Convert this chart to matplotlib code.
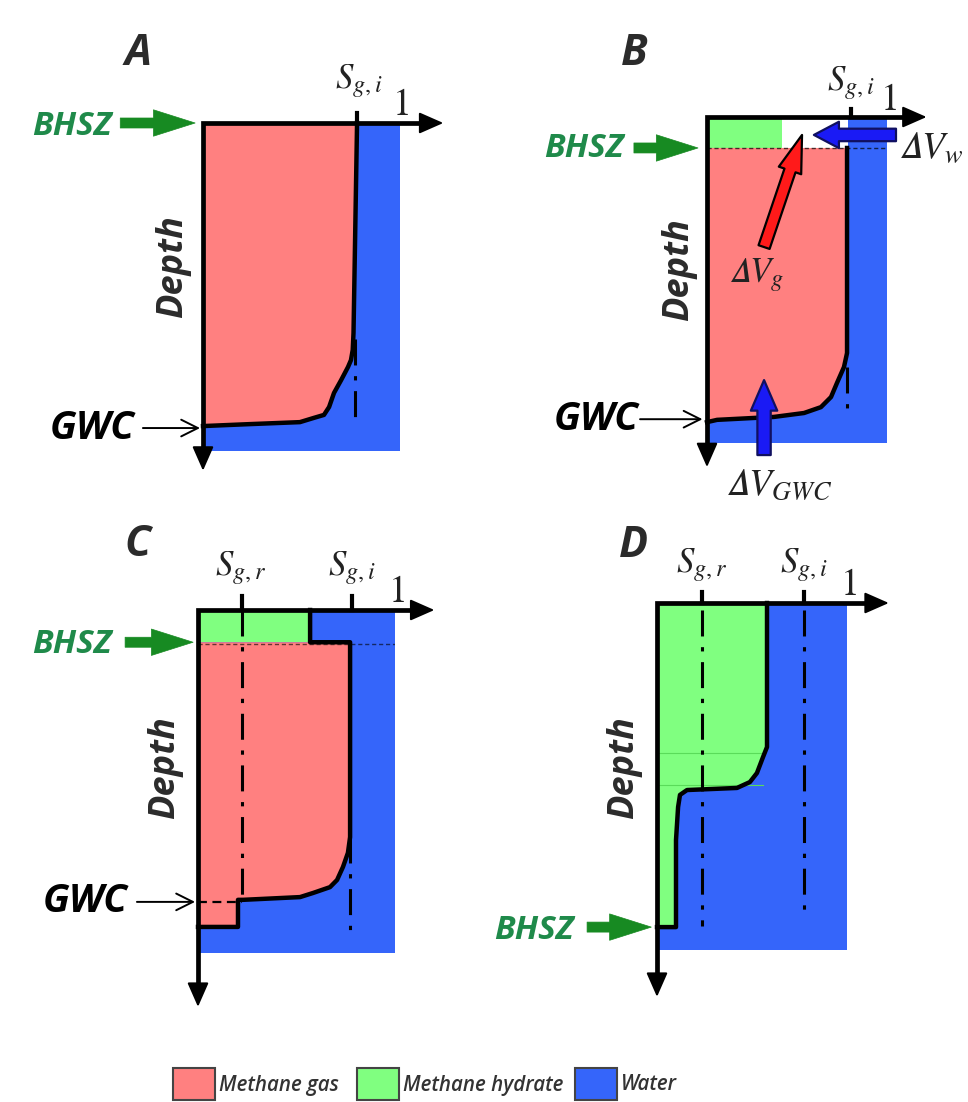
import matplotlib
matplotlib.use('Agg')
import matplotlib.pyplot as plt
from matplotlib.patches import Rectangle

plt.rcParams['mathtext.fontset'] = 'stix'
plt.rcParams['font.family'] = ['Open Sans', 'DejaVu Sans']

W, H = 968, 1102
fig = plt.figure(figsize=(W / 100, H / 100), dpi=100)

PINK = '#FF8080'
GREEN = '#80FF80'
BLUE = '#3565FA'
TXT_GREEN = '#1F8A4A'
ARR_GREEN = '#178A22'
DARK = '#2B2B2B'

# ---------------- data (saturation 0..1, normalised depth 0..1) ----------------
panel_letters = ['A', 'B', 'C', 'D']

# gas / hydrate boundary profiles
A_sat = [0.782, 0.764, 0.760, 0.751, 0.736, 0.701, 0.665, 0.640, 0.614, 0.563, 0.492, 0.239, 0.0]
A_depth = [0.0, 0.640, 0.692, 0.723, 0.744, 0.784, 0.823, 0.866, 0.890, 0.899, 0.912, 0.918, 0.924]

B_sat = [0.778, 0.778, 0.761, 0.722, 0.689, 0.633, 0.539, 0.372, 0.056, 0.0]
B_depth = [0.095, 0.724, 0.767, 0.816, 0.859, 0.890, 0.908, 0.920, 0.929, 0.936]

C_sat = [0.569, 0.569, 0.772, 0.772, 0.761, 0.736, 0.706, 0.670, 0.584, 0.518, 0.228, 0.203, 0.203, 0.0]
C_depth = [0.0, 0.094, 0.094, 0.662, 0.708, 0.749, 0.787, 0.808, 0.825, 0.837, 0.845, 0.845, 0.924, 0.924]

D_sat = [0.579, 0.579, 0.558, 0.526, 0.489, 0.421, 0.158, 0.121, 0.111, 0.100, 0.100, 0.0]
D_depth = [0.0, 0.415, 0.444, 0.490, 0.516, 0.533, 0.539, 0.553, 0.588, 0.683, 0.934, 0.934]

# characteristic saturations
Sgi = {'A': 0.782, 'B': 0.785, 'C': 0.78, 'D': 0.774}
Sgr = {'C': 0.223, 'D': 0.237}
# levels
BHSZ_depth = {'A': 0.0, 'B': 0.095, 'C': 0.094, 'D': 0.934}
GWC_depth = {'A': 0.93, 'B': 0.927, 'C': 0.851}
hydrate_B = 0.417          # hydrate saturation in B top layer
D_faint_lines = [0.432, 0.524]

legend_labels = ['Methane gas', 'Methane hydrate', 'Water']
legend_colors = [PINK, GREEN, BLUE]

# ---------------- layout (pixel boxes of each panel) ----------------
boxes = {'A': (203, 400, 123, 451), 'B': (707, 887, 117, 443),
         'C': (198, 395, 610, 953), 'D': (657, 847, 603, 950)}
axis_tips = {'A': (1.22, 1.06), 'B': (1.22, 1.074), 'C': (1.20, 1.157), 'D': (1.22, 1.135)}

DELTA = '\U0001D6E5'  # mathematical italic capital delta


def make_ax(key):
    x0, x1, yt, yb = boxes[key]
    ax = fig.add_axes([x0 / W, 1 - yb / H, (x1 - x0) / W, (yb - yt) / H])
    ax.set_xlim(0, 1)
    ax.set_ylim(1, 0)
    ax.axis('off')
    return ax


def frame(ax, key):
    xt, yt = axis_tips[key]
    ax.plot([0, 0, xt - 0.05], [yt - 0.05, 0, 0], color='k', lw=3.4,
            solid_joinstyle='miter', solid_capstyle='butt', clip_on=False, zorder=8)
    ap = dict(arrowstyle='-|>,head_length=0.75,head_width=0.33', lw=1.5, color='k',
              mutation_scale=20, shrinkA=0, shrinkB=0)
    ax.annotate('', xy=(xt, 0), xytext=(xt - 0.1, 0), arrowprops=ap, annotation_clip=False, zorder=8)
    ax.annotate('', xy=(0, yt), xytext=(0, yt - 0.1), arrowprops=ap, annotation_clip=False, zorder=8)


def dashdot(ax, x, d0, d1):
    ax.plot([x, x], [d0, d1], color='k', lw=2.2, linestyle=(0, (8.5, 3.5, 1.4, 3.5)),
            clip_on=False, zorder=4)


def tick(ax, x, h=0.035):
    ax.plot([x, x], [-h, 0], color='k', lw=3, clip_on=False, zorder=8)


def sat_label(ax, txt, x, d):
    ax.text(x, d, txt, fontsize=25, ha='center', va='baseline', color='#222222')


def one_label(ax, x, d):
    ax.text(x, d, r'$\mathit{1}$', fontsize=27, ha='center', va='baseline', color='#222222')


def bhsz(ax, tx, td, x0, x1, d):
    ax.text(tx, td, 'BHSZ', fontsize=24, fontweight='bold', fontstyle='italic',
            color=TXT_GREEN, ha='center', va='center')
    ax.annotate('', xy=(x1, d), xytext=(x0, d), annotation_clip=False,
                arrowprops=dict(arrowstyle='simple,head_length=1.5,head_width=0.95,tail_width=0.36',
                                fc=ARR_GREEN, ec=ARR_GREEN, lw=0.5, mutation_scale=20,
                                shrinkA=0, shrinkB=0))


def gwc(ax, tx, td, x0, x1, d):
    ax.text(tx, td, 'GWC', fontsize=28, fontweight='bold', fontstyle='italic',
            color='black', ha='center', va='center')
    ax.annotate('', xy=(x1, d), xytext=(x0, d), annotation_clip=False,
                arrowprops=dict(arrowstyle='->,head_length=0.6,head_width=0.3', lw=1.4,
                                color='k', mutation_scale=20, shrinkA=0, shrinkB=0))


def depth_label(ax, x, d):
    ax.text(x, d, 'Depth', fontsize=26, fontweight='bold', fontstyle='italic',
            color=DARK, rotation=90, ha='center', va='center')


def letter(ax, s, x, d):
    ax.text(x, d, s, fontsize=31, fontweight='bold', fontstyle='italic', color=DARK,
            ha='center', va='center')


def fat_arrow(ax, start, end, fc, ec, tail, hw, hl, ms=20):
    ax.annotate('', xy=end, xytext=start, annotation_clip=False, zorder=9,
                arrowprops=dict(arrowstyle=f'simple,head_length={hl},head_width={hw},tail_width={tail}',
                                fc=fc, ec=ec, lw=1.6, mutation_scale=ms, shrinkA=0, shrinkB=0))


def boundary(ax, s, d):
    ax.plot(s, d, color='k', lw=3.2, solid_joinstyle='round', clip_on=False, zorder=6)


# ---------------- Panel A ----------------
ax = make_ax('A')
ax.add_patch(Rectangle((0, 0), 1, 1, fc=BLUE, ec='none', zorder=1))
ax.fill([0] + A_sat, [A_depth[0]] + A_depth, fc=PINK, ec='none', zorder=2)
dashdot(ax, Sgi['A'] - 0.01, 0.66, 0.91)
boundary(ax, A_sat, A_depth)
frame(ax, 'A')
tick(ax, Sgi['A'], 0.03)
sat_label(ax, r'$S_{g,i}$', 0.79, -0.107)
one_label(ax, 1.0, -0.024)
letter(ax, panel_letters[0], -0.33, -0.213)
bhsz(ax, -0.665, 0.012, -0.42, -0.04, 0.0)
gwc(ax, -0.563, 0.93, -0.305, -0.015, GWC_depth['A'])
depth_label(ax, -0.152, 0.439)

# ---------------- Panel B ----------------
ax = make_ax('B')
ax.add_patch(Rectangle((0, 0), 1, 1, fc=BLUE, ec='none', zorder=1))
ax.add_patch(Rectangle((0, 0), Sgi['B'], BHSZ_depth['B'], fc='white', ec='none', zorder=2))
ax.add_patch(Rectangle((0, 0), hydrate_B, BHSZ_depth['B'], fc=GREEN, ec='none', zorder=2))
ax.fill([0] + B_sat, [B_depth[0]] + B_depth, fc=PINK, ec='none', zorder=2)
ax.plot([0, 1], [BHSZ_depth['B']] * 2, color='k', lw=1, ls=(0, (3, 2)), alpha=0.7, zorder=3)
dashdot(ax, Sgi['B'] - 0.01, 0.767, 0.92)
boundary(ax, B_sat, B_depth)
frame(ax, 'B')
tick(ax, 0.80, 0.025)
sat_label(ax, r'$S_{g,i}$', 0.80, -0.083)
one_label(ax, 1.006, -0.021)
letter(ax, panel_letters[1], -0.406, -0.196)
bhsz(ax, -0.683, 0.098, -0.406, -0.05, BHSZ_depth['B'])
gwc(ax, -0.617, 0.929, -0.372, -0.025, GWC_depth['B'])
depth_label(ax, -0.156, 0.469)
# flux arrows
fat_arrow(ax, (0.317, 0.399), (0.528, 0.055), '#FF1A1A', 'k', 0.42, 0.85, 1.35)
fat_arrow(ax, (1.05, 0.055), (0.594, 0.055), '#1A1AF5', '#101060', 0.45, 0.95, 0.9)
fat_arrow(ax, (0.317, 1.037), (0.317, 0.807), '#1A1AF5', '#101060', 0.48, 0.95, 1.1)
ax.text(1.067, 0.126, f'${DELTA}V_{{w}}$', fontsize=27, ha='left', va='baseline', color='#222222')
ax.text(0.122, 0.506, f'${DELTA}V_{{g}}$', fontsize=25, ha='left', va='baseline', color='#222222')
ax.text(0.106, 1.159, f'${DELTA}V_{{GWC}}$', fontsize=27, ha='left', va='baseline', color='#222222')

# ---------------- Panel C ----------------
ax = make_ax('C')
ax.add_patch(Rectangle((0, 0), 1, 1, fc=BLUE, ec='none', zorder=1))
ax.add_patch(Rectangle((0, 0), C_sat[0], BHSZ_depth['C'], fc=GREEN, ec='none', zorder=2))
ax.fill([0] + C_sat[1:], [C_depth[1]] + C_depth[1:], fc=PINK, ec='none', zorder=2)
ax.plot([0, 1], [BHSZ_depth['C'] + 0.004] * 2, color='k', lw=1, ls=(0, (3, 2)), alpha=0.6, zorder=3)
ax.plot([0, Sgr['C']], [GWC_depth['C']] * 2, color='k', lw=1.6, ls=(0, (4, 2.5)), zorder=3)
dashdot(ax, Sgr['C'], 0.0, 0.845)
dashdot(ax, Sgi['C'] - 0.008, 0.662, 0.94)
boundary(ax, C_sat, C_depth)
frame(ax, 'C')
tick(ax, Sgr['C'], 0.04)
tick(ax, Sgi['C'], 0.04)
sat_label(ax, r'$S_{g,r}$', 0.218, -0.102)
sat_label(ax, r'$S_{g,i}$', 0.78, -0.102)
one_label(ax, 1.005, -0.023)
letter(ax, panel_letters[2], -0.305, -0.19)
bhsz(ax, -0.64, 0.102, -0.37, -0.025, BHSZ_depth['C'])
gwc(ax, -0.574, 0.851, -0.31, -0.015, GWC_depth['C'])
depth_label(ax, -0.168, 0.458)

# ---------------- Panel D ----------------
ax = make_ax('D')
ax.add_patch(Rectangle((0, 0), 1, 1, fc=BLUE, ec='none', zorder=1))
ax.fill([0] + D_sat, [D_depth[0]] + D_depth, fc=GREEN, ec='none', zorder=2)
for d in D_faint_lines:
    ax.plot([0, 0.56], [d, d], color='#5ADB5A', lw=0.8, zorder=3)
dashdot(ax, Sgr['D'], 0.02, 0.93)
dashdot(ax, Sgi['D'], 0.02, 0.893)
boundary(ax, D_sat, D_depth)
frame(ax, 'D')
tick(ax, Sgr['D'], 0.032)
tick(ax, Sgi['D'], 0.032)
sat_label(ax, r'$S_{g,r}$', 0.237, -0.089)
sat_label(ax, r'$S_{g,i}$', 0.774, -0.089)
one_label(ax, 1.01, -0.023)
letter(ax, panel_letters[3], -0.126, -0.167)
bhsz(ax, -0.647, 0.945, -0.368, -0.03, BHSZ_depth['D'])
depth_label(ax, -0.174, 0.473)

# ---------------- legend ----------------
leg_box_x = [173, 357, 575]
for lab, col, bx in zip(legend_labels, legend_colors, leg_box_x):
    fig.patches.append(Rectangle((bx / W, 1 - 1100 / H), 42 / W, 32 / H, transform=fig.transFigure,
                                 fc=col, ec='#444444', lw=1.5, figure=fig))
    fig.text((bx + 46) / W, 1 - 1085 / H, lab, fontsize=14.8, fontweight='semibold', fontstyle='italic',
             color='#333333', ha='left', va='center')

fig.savefig('out.png', dpi=100, facecolor='white')
